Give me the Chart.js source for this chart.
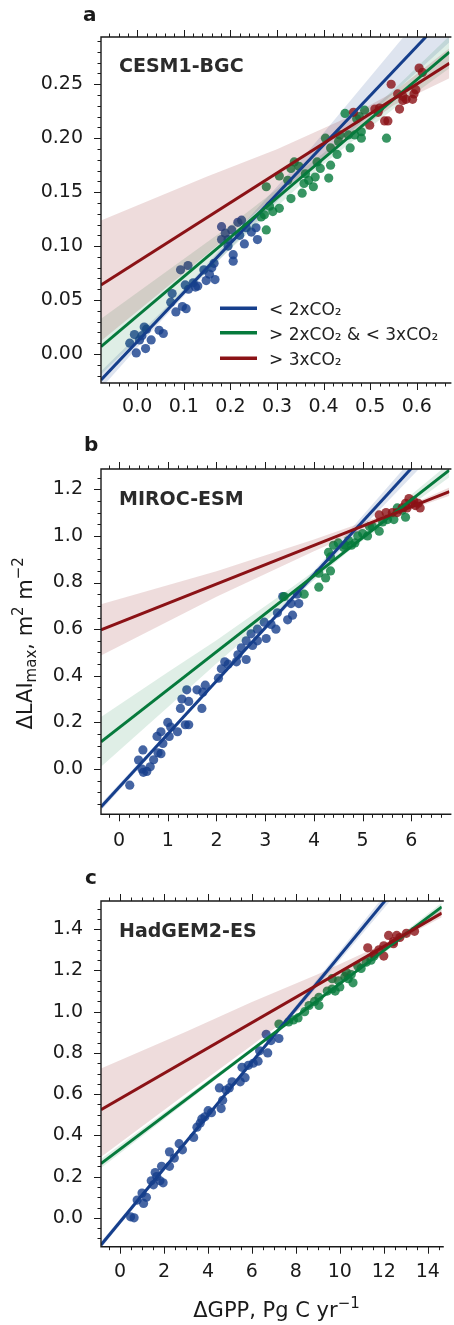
<!DOCTYPE html>
<html lang="es">
<head>
<meta charset="utf-8">
<title>ΔLAImax frente a ΔGPP</title>
<script src="https://cdn.jsdelivr.net/npm/chart.js@4.4.1/dist/chart.umd.min.js"></script>
<style>
    html, body { margin: 0; padding: 0; background: #fff; }
    body { width: 454px; height: 1325px; position: relative; overflow: hidden; }
    canvas { position: absolute; left: 0; }
</style>
</head>
<body>
<canvas id="panelA" width="454" height="430" style="top:0px"></canvas>
<canvas id="panelB" width="454" height="430" style="top:430px"></canvas>
<canvas id="panelC" width="454" height="465" style="top:860px"></canvas>
<script>
// ------------------------------ Datos ------------------------------

const nombresSeries = ["< 2xCO₂", "> 2xCO₂ & < 3xCO₂", "> 3xCO₂"];

// Panel a: CESM1-BGC
const cesmAzulX = [-0.002, -0.016, -0.006, 0.005, 0.015, 0.018, 0.030, 0.047, 0.056, 0.020, 0.072, 0.083, 0.075, 0.097, 0.105, 0.093, 0.109, 0.103, 0.110, 0.120, 0.130, 0.143, 0.148, 0.160, 0.165, 0.167, 0.155, 0.181, 0.189, 0.195, 0.203, 0.206, 0.206, 0.216, 0.220, 0.230, 0.234, 0.245, 0.255, 0.258, 0.224, 0.195, 0.181, 0.010, 0.125];
const cesmAzulY = [0.001, 0.010, 0.018, 0.013, 0.025, 0.005, 0.013, 0.022, 0.019, 0.023, 0.048, 0.039, 0.056, 0.044, 0.042, 0.078, 0.082, 0.064, 0.060, 0.066, 0.063, 0.078, 0.068, 0.080, 0.084, 0.069, 0.074, 0.118, 0.112, 0.106, 0.115, 0.092, 0.086, 0.122, 0.110, 0.102, 0.117, 0.113, 0.117, 0.106, 0.124, 0.100, 0.106, 0.017, 0.062];
const cesmVerdeX = [0.277, 0.277, 0.273, 0.284, 0.291, 0.305, 0.305, 0.330, 0.330, 0.337, 0.347, 0.354, 0.358, 0.361, 0.368, 0.382, 0.386, 0.393, 0.411, 0.415, 0.404, 0.415, 0.429, 0.432, 0.446, 0.457, 0.453, 0.467, 0.471, 0.481, 0.481, 0.488, 0.535, 0.477, 0.435, 0.378, 0.323, 0.266];
const cesmVerdeY = [0.155, 0.115, 0.129, 0.137, 0.132, 0.135, 0.165, 0.144, 0.172, 0.178, 0.174, 0.149, 0.158, 0.167, 0.161, 0.164, 0.178, 0.172, 0.163, 0.175, 0.200, 0.191, 0.185, 0.197, 0.223, 0.191, 0.203, 0.203, 0.218, 0.200, 0.206, 0.226, 0.200, 0.220, 0.203, 0.155, 0.161, 0.127];
const cesmRojoX = [0.464, 0.499, 0.510, 0.517, 0.531, 0.538, 0.545, 0.559, 0.563, 0.570, 0.577, 0.591, 0.594, 0.605, 0.612, 0.598, 0.520, 0.570];
const cesmRojoY = [0.224, 0.212, 0.227, 0.224, 0.216, 0.216, 0.250, 0.241, 0.227, 0.235, 0.236, 0.236, 0.241, 0.265, 0.261, 0.245, 0.228, 0.239];
const cesmOrdenada = [0.0114, 0.0352, 0.0853];
const cesmPendiente = [0.456, 0.365, 0.2749];
const cesmBandaX = [[-0.08, 0.05, 0.12, 0.35, 0.67], [-0.08, 0.2, 0.4, 0.55, 0.67], [-0.08, 0.15, 0.3, 0.45, 0.55, 0.67]];
const cesmBandaSup = [[0.008, 0.004, 0.003, 0.008, 0.028], [0.026, 0.011, 0.005, 0.009, 0.015], [0.06, 0.038, 0.022, 0.01, 0.006, 0.014]];
const cesmBandaInf = [[0.008, 0.004, 0.003, 0.008, 0.028], [0.026, 0.011, 0.005, 0.009, 0.015], [0.052, 0.034, 0.02, 0.01, 0.006, 0.014]];
const cesmTicksX = [0.0, 0.1, 0.2, 0.3, 0.4, 0.5, 0.6];
const cesmTicksY = [0.00, 0.05, 0.10, 0.15, 0.20, 0.25];

// Panel b: MIROC-ESM
const mirocAzulX = [0.22, 0.40, 0.49, 0.47, 0.50, 0.57, 0.64, 0.71, 0.78, 0.80, 0.86, 0.90, 0.86, 1.00, 1.03, 1.06, 1.20, 1.26, 1.29, 1.36, 1.39, 1.43, 1.43, 1.60, 1.70, 1.77, 1.72, 2.04, 2.10, 2.17, 2.24, 2.41, 2.44, 2.51, 2.61, 2.61, 2.71, 2.74, 2.84, 2.84, 2.98, 3.02, 3.12, 3.22, 3.25, 3.36, 3.46, 3.56, 3.53, 3.69, 3.66];
const mirocAzulY = [-0.069, 0.039, 0.082, 0.0, -0.014, -0.01, 0.01, 0.04, 0.14, 0.07, 0.066, 0.11, 0.16, 0.20, 0.14, 0.18, 0.16, 0.26, 0.30, 0.19, 0.34, 0.29, 0.19, 0.34, 0.26, 0.36, 0.33, 0.39, 0.43, 0.46, 0.45, 0.46, 0.49, 0.52, 0.47, 0.55, 0.58, 0.53, 0.55, 0.60, 0.63, 0.56, 0.62, 0.60, 0.67, 0.74, 0.64, 0.66, 0.71, 0.71, 0.75];
const mirocVerdeX = [3.39, 3.80, 4.10, 4.10, 4.24, 4.34, 4.30, 4.40, 4.50, 4.61, 4.71, 4.77, 4.84, 4.90, 5.00, 5.10, 5.20, 5.34, 5.41, 5.51, 5.64, 5.71, 5.88, 5.81, 4.34, 4.64, 5.14];
const mirocVerdeY = [0.74, 0.75, 0.78, 0.84, 0.82, 0.85, 0.93, 0.96, 0.97, 0.95, 0.98, 0.96, 0.97, 1.00, 1.01, 1.00, 1.04, 1.02, 1.06, 1.07, 1.07, 1.12, 1.08, 1.11, 0.91, 0.96, 1.04];
const mirocRojoX = [5.34, 5.48, 5.61, 5.71, 5.81, 5.91, 5.95, 6.01, 6.08, 6.14, 6.18, 6.05, 5.88];
const mirocRojoY = [1.09, 1.10, 1.10, 1.10, 1.12, 1.12, 1.16, 1.14, 1.13, 1.14, 1.12, 1.15, 1.14];
const mirocOrdenada = [-0.078, 0.177, 0.628];
const mirocPendiente = [0.228, 0.163, 0.0829];
const mirocBandaX = [[-0.37, 2, 4.5, 6.78], [-0.37, 1, 2, 3.5, 4.8, 6.78], [-0.37, 2, 4, 5.8, 6.78]];
const mirocBandaSup = [[0.015, 0.006, 0.02, 0.045], [0.107, 0.075, 0.05, 0.025, 0.01, 0.03], [0.11, 0.055, 0.025, 0.008, 0.018]];
const mirocBandaInf = [[0.015, 0.006, 0.02, 0.045], [0.107, 0.075, 0.05, 0.025, 0.01, 0.03], [0.11, 0.055, 0.025, 0.008, 0.018]];
const mirocTicksX = [0, 1, 2, 3, 4, 5, 6];
const mirocTicksY = [0.0, 0.2, 0.4, 0.6, 0.8, 1.0, 1.2];

// Panel c: HadGEM2-ES
const hadAzulX = [0.48, 0.64, 0.78, 1.00, 1.07, 1.20, 1.42, 1.52, 1.67, 1.82, 1.89, 1.96, 2.25, 2.25, 2.47, 2.69, 2.84, 3.35, 3.50, 3.72, 3.86, 4.01, 4.16, 4.52, 4.60, 4.67, 4.82, 4.97, 5.10, 5.47, 5.55, 5.69, 5.84, 6.06, 6.28, 6.35, 6.65, 6.72, 6.87, 7.23, 3.65, 1.60];
const hadAzulY = [0.005, 0.0, 0.086, 0.12, 0.07, 0.10, 0.18, 0.16, 0.20, 0.18, 0.25, 0.17, 0.25, 0.32, 0.29, 0.36, 0.33, 0.39, 0.44, 0.48, 0.49, 0.52, 0.51, 0.63, 0.53, 0.57, 0.62, 0.63, 0.66, 0.66, 0.73, 0.68, 0.74, 0.75, 0.76, 0.81, 0.89, 0.80, 0.86, 0.87, 0.46, 0.22];
const hadVerdeX = [7.23, 7.67, 8.10, 8.40, 8.60, 8.85, 9.05, 9.05, 9.43, 9.65, 9.79, 9.94, 10.00, 10.23, 10.38, 10.52, 10.60, 10.82, 10.97, 11.20, 11.42, 11.56, 9.65, 7.89, 10.30];
const hadVerdeY = [0.94, 0.95, 0.97, 1.00, 1.03, 1.05, 1.03, 1.07, 1.10, 1.11, 1.10, 1.15, 1.12, 1.17, 1.16, 1.18, 1.14, 1.22, 1.21, 1.24, 1.25, 1.27, 1.16, 0.96, 1.19];
const hadRojoX = [11.27, 11.56, 11.78, 12.00, 12.00, 12.22, 12.44, 12.59, 12.73, 13.03, 13.40, 12.44];
const hadRojoY = [1.31, 1.28, 1.30, 1.27, 1.32, 1.37, 1.34, 1.37, 1.36, 1.38, 1.39, 1.33];
const hadOrdenada = [-0.0196, 0.333, 0.578];
const hadPendiente = [0.1292, 0.0803, 0.0615];
const hadBandaX = [[-0.87, 3.5, 8, 14.64], [-0.87, 5, 9.5, 14.64], [-0.87, 3, 6, 9, 12.3, 14.64]];
const hadBandaSup = [[0.015, 0.006, 0.015, 0.04], [0.022, 0.01, 0.005, 0.02], [0.2, 0.14, 0.1, 0.05, 0.01, 0.02]];
const hadBandaInf = [[0.015, 0.006, 0.015, 0.04], [0.022, 0.01, 0.005, 0.02], [0.23, 0.16, 0.11, 0.055, 0.01, 0.02]];
const hadTicksX = [0, 2, 4, 6, 8, 10, 12, 14];
const hadTicksY = [0.0, 0.2, 0.4, 0.6, 0.8, 1.0, 1.2, 1.4];

// ------------------------------ Estilos ------------------------------

const coloresLinea = ["#163f8c", "#067a3c", "#8b1216"];
const coloresPunto = ["rgba(22,63,140,0.8)", "rgba(6,122,60,0.8)", "rgba(139,18,22,0.8)"];
const coloresBanda = ["rgba(22,63,140,0.14)", "rgba(6,122,60,0.13)", "rgba(139,18,22,0.15)"];
const fuente = "DejaVu Sans";
const colorTexto = "#1a1a1a";

// Dibuja texto con partes de distinto tamaño (subíndices / superíndices)
function textoCompuesto(ctx, partes, x, y) {
    let ancho = 0;
    partes.forEach(p => {
        ctx.font = `${p[1]}px "${fuente}"`;
        ancho += ctx.measureText(p[0]).width;
    });
    let cx = x - ancho / 2;
    partes.forEach(p => {
        ctx.font = `${p[1]}px "${fuente}"`;
        ctx.fillText(p[0], cx, y + p[2]);
        cx += ctx.measureText(p[0]).width;
    });
}

// ------------------------------ Plugin: marco, rayitas y textos ------------------------------
const pluginDecoracion = {
    id: "decoracion",
    afterDraw(chart, args, op) {
        const { ctx, chartArea: ca, scales: { x, y } } = chart;
        ctx.save();
        ctx.strokeStyle = colorTexto;
        ctx.fillStyle = colorTexto;

        // marco (el lado derecho queda fuera de la imagen)
        ctx.lineWidth = 1.4;
        ctx.beginPath();
        ctx.moveTo(ca.right + 2, ca.top);
        ctx.lineTo(ca.left, ca.top);
        ctx.lineTo(ca.left, ca.bottom);
        ctx.lineTo(ca.right + 2, ca.bottom);
        ctx.stroke();

        // rayitas mayores y menores
        ctx.lineWidth = 1;
        const rayitaX = (v, largo) => {
            const px = Math.round(x.getPixelForValue(v)) + 0.5;
            ctx.beginPath();
            ctx.moveTo(px, ca.bottom); ctx.lineTo(px, ca.bottom + largo);
            ctx.moveTo(px, ca.top); ctx.lineTo(px, ca.top - largo);
            ctx.stroke();
        };
        const rayitaY = (v, largo) => {
            const py = Math.round(y.getPixelForValue(v)) + 0.5;
            ctx.beginPath();
            ctx.moveTo(ca.left, py); ctx.lineTo(ca.left - largo, py);
            ctx.stroke();
        };
        for (let k = Math.ceil(x.min / op.menorX); k * op.menorX <= x.max; k++) rayitaX(k * op.menorX, 3.5);
        for (let k = Math.ceil(y.min / op.menorY); k * op.menorY <= y.max; k++) rayitaY(k * op.menorY, 3.5);
        x.ticks.forEach(t => rayitaX(t.value, 7));
        y.ticks.forEach(t => rayitaY(t.value, 7));

        // letra del panel y nombre del modelo
        ctx.textAlign = "left";
        ctx.textBaseline = "alphabetic";
        ctx.font = `bold 20px "${fuente}"`;
        ctx.fillText(op.letra[0], op.letra[1], op.letra[2]);
        ctx.fillStyle = "#2b2b2b";
        ctx.font = `bold 19px "${fuente}"`;
        ctx.fillText(op.titulo[0], op.titulo[1], op.titulo[2]);
        ctx.fillStyle = colorTexto;

        // leyenda (solo panel a)
        if (op.leyenda) {
            const filas = [308.3, 332.7, 358.3];
            nombresSeries.forEach((nombre, i) => {
                ctx.strokeStyle = coloresLinea[i];
                ctx.lineWidth = 3.6;
                ctx.beginPath();
                ctx.moveTo(220, filas[i]); ctx.lineTo(257, filas[i]);
                ctx.stroke();
                ctx.font = `17px "${fuente}"`;
                ctx.fillStyle = "#222";
                ctx.fillText(nombre, 269, filas[i] + 7);
            });
        }

        // título del eje y (panel b)
        if (op.ejeY) {
            ctx.save();
            ctx.translate(32.3, 213.3);
            ctx.rotate(-Math.PI / 2);
            textoCompuesto(ctx, [["ΔLAI", 21, 0], ["max", 15, 4], [", m", 21, 0], ["2", 15, -9], [" m", 21, 0], ["−2", 15, -9]], 0, 0);
            ctx.restore();
        }

        // título del eje x (panel c)
        if (op.ejeX) {
            textoCompuesto(ctx, [["ΔGPP, Pg C yr", 21, 0], ["−1", 15, -9]], 276.5, 457.3);
        }
        ctx.restore();
    }
};

// ------------------------------ Construcción de cada panel ------------------------------
function crearPanel(idCanvas, p) {
    const capas = [];
    const lineas = [];
    for (let i = 0; i < 3; i++) {
        const recta = v => p.ordenada[i] + p.pendiente[i] * v;

        capas.push({
            type: "scatter",
            data: p.puntosX[i].map((v, k) => ({ x: v, y: p.puntosY[i][k] })),
            backgroundColor: coloresPunto[i],
            borderWidth: 0,
            pointRadius: 4.6,
            pointHoverRadius: 4.6
        });
        capas.push({
            type: "line",
            data: p.bandaX[i].map((v, k) => ({ x: v, y: recta(v) - p.bandaInf[i][k] })),
            borderWidth: 0,
            pointRadius: 0,
            fill: false
        });
        capas.push({
            type: "line",
            data: p.bandaX[i].map((v, k) => ({ x: v, y: recta(v) + p.bandaSup[i][k] })),
            borderWidth: 0,
            pointRadius: 0,
            backgroundColor: coloresBanda[i],
            fill: "-1"
        });
        lineas.push({
            type: "line",
            data: [{ x: p.rangoX[0], y: recta(p.rangoX[0]) }, { x: p.rangoX[1], y: recta(p.rangoX[1]) }],
            borderColor: coloresLinea[i],
            borderWidth: 3,
            pointRadius: 0,
            fill: false
        });
    }
    const datasets = capas.concat(lineas);
    // el primero del arreglo queda abajo
    datasets.forEach((d, i) => { d.order = datasets.length - i; });

    const alto = document.getElementById(idCanvas).height;

    return new Chart(document.getElementById(idCanvas), {
        type: "scatter",
        data: { datasets: datasets },
        options: {
            responsive: false,
            animation: false,
            devicePixelRatio: 1,
            layout: { padding: { top: p.arriba, left: 0, right: 0, bottom: 0 } },
            plugins: {
                legend: { display: false },
                tooltip: { enabled: false },
                decoracion: p.deco
            },
            scales: {
                x: {
                    type: "linear",
                    position: "bottom",
                    min: p.rangoX[0],
                    max: p.rangoX[1],
                    afterBuildTicks: sc => { sc.ticks = p.ticksX.map(v => ({ value: v })); },
                    afterFit: sc => { sc.height = alto - p.abajo; },
                    grid: { display: false, drawTicks: false },
                    border: { display: false },
                    ticks: {
                        color: colorTexto,
                        font: { family: fuente, size: 19 },
                        padding: p.padX,
                        maxRotation: 0,
                        autoSkip: false,
                        callback: v => v.toFixed(p.decX)
                    }
                },
                y: {
                    type: "linear",
                    position: "left",
                    min: p.rangoY[0],
                    max: p.rangoY[1],
                    afterBuildTicks: sc => { sc.ticks = p.ticksY.map(v => ({ value: v })); },
                    afterFit: sc => { sc.width = 101; },
                    grid: { display: false, drawTicks: false },
                    border: { display: false },
                    ticks: {
                        color: colorTexto,
                        font: { family: fuente, size: 19 },
                        padding: 18,
                        autoSkip: false,
                        callback: v => v.toFixed(p.decY)
                    }
                }
            }
        },
        plugins: [pluginDecoracion]
    });
}

crearPanel("panelA", {
    puntosX: [cesmAzulX, cesmVerdeX, cesmRojoX],
    puntosY: [cesmAzulY, cesmVerdeY, cesmRojoY],
    ordenada: cesmOrdenada, pendiente: cesmPendiente,
    bandaX: cesmBandaX, bandaSup: cesmBandaSup, bandaInf: cesmBandaInf,
    ticksX: cesmTicksX, ticksY: cesmTicksY, decX: 1, decY: 2,
    rangoX: [-0.0777, 0.670], rangoY: [-0.0269, 0.2938],
    arriba: 37, abajo: 383, padX: 13,
    deco: { menorX: 0.02, menorY: 0.01, letra: ["a", 83, 21], titulo: ["CESM1-BGC", 119, 72], leyenda: true }
});

crearPanel("panelB", {
    puntosX: [mirocAzulX, mirocVerdeX, mirocRojoX],
    puntosY: [mirocAzulY, mirocVerdeY, mirocRojoY],
    ordenada: mirocOrdenada, pendiente: mirocPendiente,
    bandaX: mirocBandaX, bandaSup: mirocBandaSup, bandaInf: mirocBandaInf,
    ticksX: mirocTicksX, ticksY: mirocTicksY, decX: 0, decY: 1,
    rangoX: [-0.37, 6.78], rangoY: [-0.194, 1.287],
    arriba: 39, abajo: 384.3, padX: 15,
    deco: { menorX: 0.2, menorY: 0.05, letra: ["b", 84, 20.7], titulo: ["MIROC-ESM", 119, 75], ejeY: true }
});

crearPanel("panelC", {
    puntosX: [hadAzulX, hadVerdeX, hadRojoX],
    puntosY: [hadAzulY, hadVerdeY, hadRojoY],
    ordenada: hadOrdenada, pendiente: hadPendiente,
    bandaX: hadBandaX, bandaSup: hadBandaSup, bandaInf: hadBandaInf,
    ticksX: hadTicksX, ticksY: hadTicksY, decX: 0, decY: 1,
    rangoX: [-0.866, 14.64], rangoY: [-0.140, 1.537],
    arriba: 41, abajo: 386.7, padX: 14,
    deco: { menorX: 0.5, menorY: 0.05, letra: ["c", 85, 24], titulo: ["HadGEM2-ES", 119, 76.7], ejeX: true }
});
</script>
</body>
</html>
